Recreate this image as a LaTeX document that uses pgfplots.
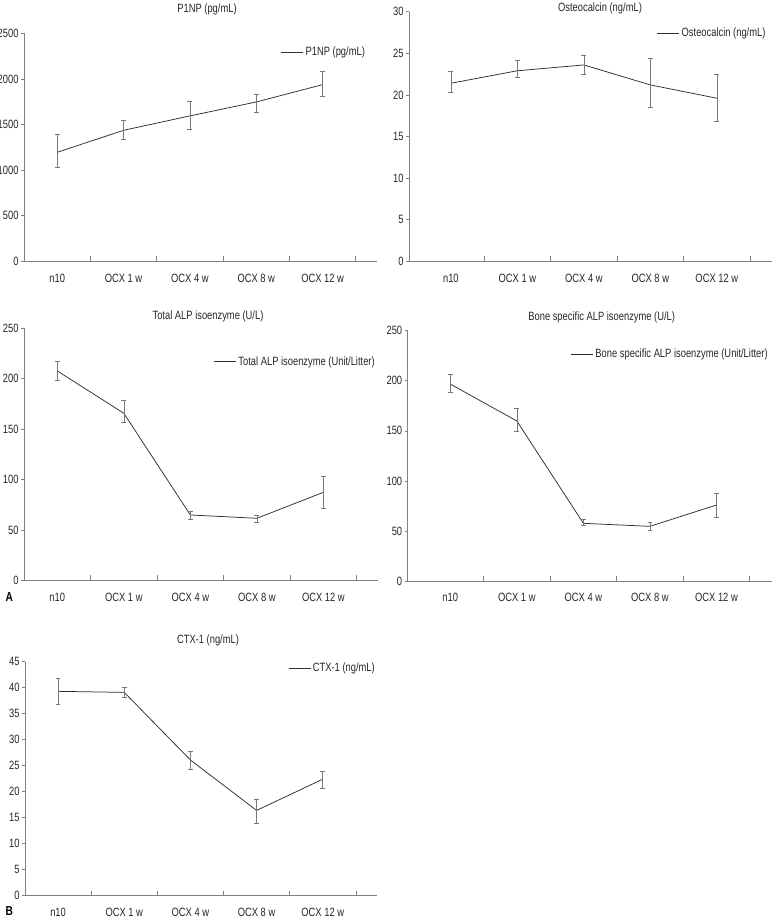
\documentclass[border=0pt]{standalone}
\usepackage{fontspec}
\setmainfont{Liberation Sans}[FakeStretch=0.78]
\usepackage{pgfplots}
\pgfplotsset{compat=1.18}
\definecolor{axisgray}{RGB}{128,128,128}
\definecolor{errgray}{RGB}{120,120,120}
\definecolor{linedark}{RGB}{45,45,45}

\pgfplotsset{
  panel/.style={
    scale only axis,
    axis lines*=left,
    axis line style={axisgray, line width=0.7pt},
    xmin=-0.5, xmax=4.82,
    ymin=0,
    xtick={0,1,2,3,4},
    xticklabels={n10,OCX 1 w,OCX 4 w,OCX 8 w,OCX 12 w},
    major x tick style={draw=none},
    minor xtick={0.5,1.5,2.5,3.5,4.5},
    minor x tick style={axisgray, line width=0.6pt},
    minor tick length=5pt,
    xtick align=inside,
    ytick align=outside,
    major tick length=3pt,
    y tick style={axisgray, line width=0.6pt},
    tick label style={font=\fontsize{12}{14}\selectfont, text=black!85},
    xticklabel style={yshift=-9pt},
    yticklabel style={xshift=1pt},
    /pgf/number format/1000 sep={},
    /pgf/number format/assume math mode=true,
    legend style={draw=none, fill=none, anchor=east, inner sep=0pt,
      font=\fontsize{12}{14}\selectfont, text=black!85},
    legend image code/.code={\draw[linedark, line width=0.8pt] (0pt,0pt)--(22pt,0pt);},
    clip=false,
  },
  series/.style={
    linedark, line width=0.75pt, mark=none,
    error bars/.cd, y dir=both, y explicit,
    error bar style={errgray, line width=0.6pt},
    error mark options={errgray, rotate=90, mark size=2.4pt, line width=0.6pt},
  },
}

\begin{document}
\begin{tikzpicture}[x=1pt,y=1pt]
\useasboundingbox (0pt,0pt) rectangle (774pt,920pt);
\tikzset{ttl/.style={anchor=base, font=\fontsize{12}{14}\selectfont, text=black!85}}

% P1NP
\begin{axis}[panel, at={(24pt,658.7pt)}, anchor=south west, width=353pt, height=228pt,
  ymax=2500, ytick={0,500,...,2500},
  legend style={at={(0.972,0.918)}}]
\addplot[series] table[x=x, y=y, y error plus=ep, y error minus=em] {
x y ep em
0 1195 198 164
1 1436 110 98
2 1594 160 147
3 1747 84 113
4 1937 146 128
};
\addlegendentry{P1NP (pg/mL)}
\end{axis}
\node[ttl] at (207pt,907.3pt) {P1NP (pg/mL)};

% Osteocalcin
\begin{axis}[panel, at={(409pt,658.7pt)}, anchor=south west, width=363pt, height=249.6pt,
  xmin=-0.63, xmax=4.83,
  ymax=30, ytick={0,5,...,30},
  legend style={at={(0.988,0.915)}}]
\addplot[series] table[x=x, y=y, y error plus=ep, y error minus=em] {
x y ep em
0 21.4 1.4 1.1
1 22.9 1.2 0.8
2 23.6 1.2 1.1
3 21.2 3.2 2.7
4 19.6 2.9 2.8
};
\addlegendentry{Osteocalcin (ng/mL)}
\end{axis}
\node[ttl] at (600pt,908.3pt) {Osteocalcin (ng/mL)};

% Total ALP
\begin{axis}[panel, at={(24pt,339.7pt)}, anchor=south west, width=354pt, height=252pt,
  ymax=250, ytick={0,50,...,250},
  legend style={at={(0.997,0.867)}}]
\addplot[series] table[x=x, y=y, y error plus=ep, y error minus=em] {
x y ep em
0 207.7 9.6 9.3
1 165.7 12.9 9.0
2 64.8 3.3 4.3
3 61.5 3.0 3.6
4 87.3 15.9 16.2
};
\addlegendentry{Total ALP isoenzyme (Unit/Litter)}
\end{axis}
\node[ttl] at (208pt,600pt) {Total ALP isoenzyme (U/L)};
\node[anchor=base west, font=\fontsize{13}{15}\selectfont\bfseries] at (2pt,318pt) {A};

% Bone specific ALP
\begin{axis}[panel, at={(407.7pt,339pt)}, anchor=south west, width=364pt, height=250.3pt,
  xmin=-0.64, xmax=4.83,
  ymax=250, ytick={0,50,...,250},
  legend style={at={(0.995,0.907)}}]
\addplot[series] table[x=x, y=y, y error plus=ep, y error minus=em] {
x y ep em
0 196.7 9.7 8.3
1 159.8 12.6 10.0
2 57.6 3.7 2.0
3 54.6 3.7 4.0
4 75.9 11.6 12.7
};
\addlegendentry{Bone specific ALP isoenzyme (Unit/Litter)}
\end{axis}
\node[ttl] at (601.7pt,599pt) {Bone specific ALP isoenzyme (U/L)};

% CTX-1
\begin{axis}[panel, at={(25pt,24.3pt)}, anchor=south west, width=352pt, height=234pt,
  ymax=45, ytick={0,5,...,45},
  legend style={at={(1.0,0.973)}}]
\addplot[series] table[x=x, y=y, y error plus=ep, y error minus=em] {
x y ep em
0 39.3 2.5 2.5
1 39.1 1.0 1.0
2 26.1 1.6 1.8
3 16.4 2.1 2.5
4 22.4 1.5 1.8
};
\addlegendentry{CTX-1 (ng/mL)}
\end{axis}
\node[ttl] at (208pt,276pt) {CTX-1 (ng/mL)};
\node[anchor=base west, font=\fontsize{13}{15}\selectfont\bfseries] at (2pt,5pt) {B};
\end{tikzpicture}
\end{document}
